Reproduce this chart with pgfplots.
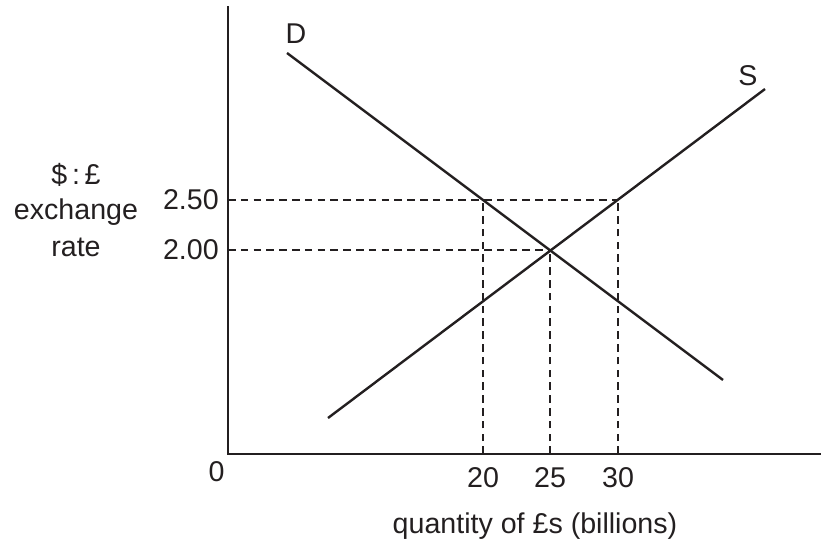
\documentclass[border=0pt]{standalone}
\usepackage{fontspec}
\setmainfont{Liberation Sans}
\usepackage{pgfplots}
\pgfplotsset{compat=1.18}
\definecolor{ink}{RGB}{35,31,32}
\begin{document}
\fontsize{14.3}{17}\selectfont
\begin{tikzpicture}
% page = 833 x 547 px, 1 px = 0.5pt
\path[use as bounding box] (0,0) rectangle (416.5pt,273.5pt);
\begin{axis}[
  x=0.5pt, y=0.5pt,
  at={(114pt,46.5pt)}, anchor=south west,
  xmin=228, xmax=820, ymin=93, ymax=540,
  axis lines=left,
  every outer x axis line/.append style={-},
  every outer y axis line/.append style={-},
  axis line style={-, line width=1.35pt, color=ink, line cap=rect},
  major tick length=0pt,
  xtick={483,550,618}, xticklabels={\mbox{20},\mbox{25},\mbox{30}},
  ytick={297,347}, yticklabels={\mbox{2.00},\mbox{2.50}},
  tick label style={font=\fontsize{14.3}{17}\selectfont, text=ink},
  xticklabel style={yshift=-1.6pt},
  yticklabel style={xshift=0.3pt},
  clip=false,
]
% demand and supply
\addplot[ink, line width=1.2pt] coordinates {(287,494) (723,167)};
\addplot[ink, line width=1.2pt] coordinates {(328,129) (765,458)};
% dashed guides
\addplot[ink, line width=0.75pt, dash pattern=on 3.8pt off 2.6pt] coordinates {(228,347) (618,347)};
\addplot[ink, line width=0.75pt, dash pattern=on 3.8pt off 2.6pt] coordinates {(228,297) (550,297)};
\addplot[ink, line width=0.75pt, dash pattern=on 3.8pt off 2.6pt] coordinates {(483,93) (483,347)};
\addplot[ink, line width=0.75pt, dash pattern=on 3.8pt off 2.6pt] coordinates {(550,93) (550,297)};
\addplot[ink, line width=0.75pt, dash pattern=on 3.8pt off 2.6pt] coordinates {(618,93) (618,347)};
% labels
\node[text=ink, inner sep=0pt] at (axis cs:296,513) {D};
\node[text=ink, inner sep=0pt] at (axis cs:748,471) {S};
\node[text=ink, inner sep=0pt] at (axis cs:216.7,75) {0};
\node[text=ink, inner sep=0pt, anchor=base] at (axis cs:76,363) {\$\,:\,£};
\node[text=ink, inner sep=0pt, anchor=base] at (axis cs:76,328) {exchange};
\node[text=ink, inner sep=0pt, anchor=base] at (axis cs:76,291) {rate};
\node[text=ink, inner sep=0pt, anchor=base] at (axis cs:535,14) {quantity of £s (billions)};
\end{axis}
\end{tikzpicture}
\end{document}
